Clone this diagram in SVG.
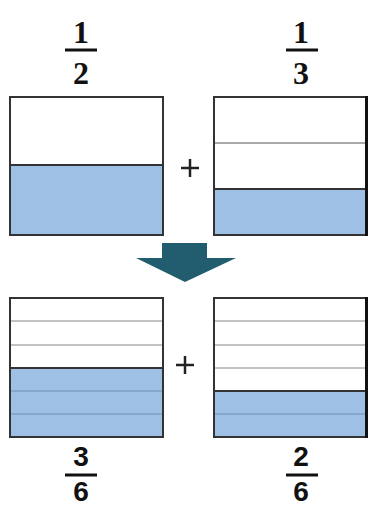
<svg xmlns="http://www.w3.org/2000/svg" width="370" height="508" viewBox="0 0 370 508">
<style>
.box{fill:#fff;stroke:#333;stroke-width:2}
.fill{fill:#9dc0e4}
.gl{stroke:#c4c4c4;stroke-width:2}
.bl{stroke:#86a8cc;stroke-width:2}
.dl{stroke:#333;stroke-width:2}
.tl{stroke:#555;stroke-width:1.2}
.num{font-family:"Liberation Serif",serif;font-weight:bold;font-size:32px;fill:#111;text-anchor:middle}
.nums{font-family:"Liberation Sans",sans-serif;font-weight:bold;font-size:28px;fill:#111;text-anchor:middle}
.bar{stroke:#111;stroke-width:3}
.plus{stroke:#222;stroke-width:2.5}
</style>
<rect width="370" height="508" fill="#fff"/>
<g id="frac-top-left">
<text class="num" x="81" y="43">1</text>
<line class="bar" x1="65" y1="50" x2="97" y2="50"/>
<text class="num" x="81" y="84">2</text>
</g>
<g id="frac-top-right">
<text class="num" x="301" y="43">1</text>
<line class="bar" x1="286" y1="50" x2="318" y2="50"/>
<text class="num" x="301" y="84">3</text>
</g>
<g id="box-half">
<rect class="box" x="10" y="97" width="153" height="138"/>
<rect class="fill" x="11" y="165" width="151" height="69"/>
<line class="dl" x1="10" y1="165" x2="163" y2="165"/>
<rect x="10" y="97" width="153" height="138" fill="none" stroke="#333" stroke-width="2"/>
</g>
<g id="plus-top">
<line class="plus" x1="181" y1="168" x2="199" y2="168"/>
<line class="plus" x1="190" y1="159" x2="190" y2="177"/>
</g>
<g id="box-third">
<rect class="box" x="214" y="97" width="152" height="138"/>
<rect class="fill" x="215" y="189" width="150" height="45"/>
<line class="tl" x1="214" y1="143" x2="366" y2="143"/>
<line class="dl" x1="214" y1="189" x2="366" y2="189"/>
<rect x="214" y="97" width="152" height="138" fill="none" stroke="#333" stroke-width="2"/>
<line x1="366.5" y1="96" x2="366.5" y2="236" stroke="#111" stroke-width="3"/>
</g>
<g id="arrow">
<polygon points="162,243 207,243 207,258 236,258 185,282 136,258 162,258" fill="#225c6f"/>
</g>
<g id="box-three-sixths">
<rect class="box" x="10" y="298" width="153" height="139"/>
<rect class="fill" x="11" y="368" width="151" height="68"/>
<line class="gl" x1="11" y1="321" x2="162" y2="321"/>
<line class="gl" x1="11" y1="345" x2="162" y2="345"/>
<line class="bl" x1="11" y1="391" x2="162" y2="391"/>
<line class="bl" x1="11" y1="414" x2="162" y2="414"/>
<line class="dl" x1="10" y1="368" x2="163" y2="368"/>
<rect x="10" y="298" width="153" height="139" fill="none" stroke="#333" stroke-width="2"/>
</g>
<g id="plus-bottom">
<line class="plus" x1="176" y1="365" x2="194" y2="365"/>
<line class="plus" x1="185" y1="356" x2="185" y2="374"/>
</g>
<g id="box-two-sixths">
<rect class="box" x="214" y="298" width="152" height="139"/>
<rect class="fill" x="215" y="391" width="150" height="45"/>
<line class="gl" x1="215" y1="321" x2="365" y2="321"/>
<line class="gl" x1="215" y1="345" x2="365" y2="345"/>
<line class="gl" x1="215" y1="368" x2="365" y2="368"/>
<line class="bl" x1="215" y1="414" x2="365" y2="414"/>
<line class="dl" x1="214" y1="391" x2="366" y2="391"/>
<rect x="214" y="298" width="152" height="139" fill="none" stroke="#333" stroke-width="2"/>
<line x1="366.5" y1="297" x2="366.5" y2="438" stroke="#111" stroke-width="3"/>
</g>
<g id="frac-bottom-left">
<text class="nums" x="81" y="466">3</text>
<line class="bar" x1="65" y1="475" x2="97" y2="475"/>
<text class="nums" x="81" y="501">6</text>
</g>
<g id="frac-bottom-right">
<text class="nums" x="301" y="466">2</text>
<line class="bar" x1="286" y1="475" x2="318" y2="475"/>
<text class="nums" x="301" y="501">6</text>
</g>
</svg>
